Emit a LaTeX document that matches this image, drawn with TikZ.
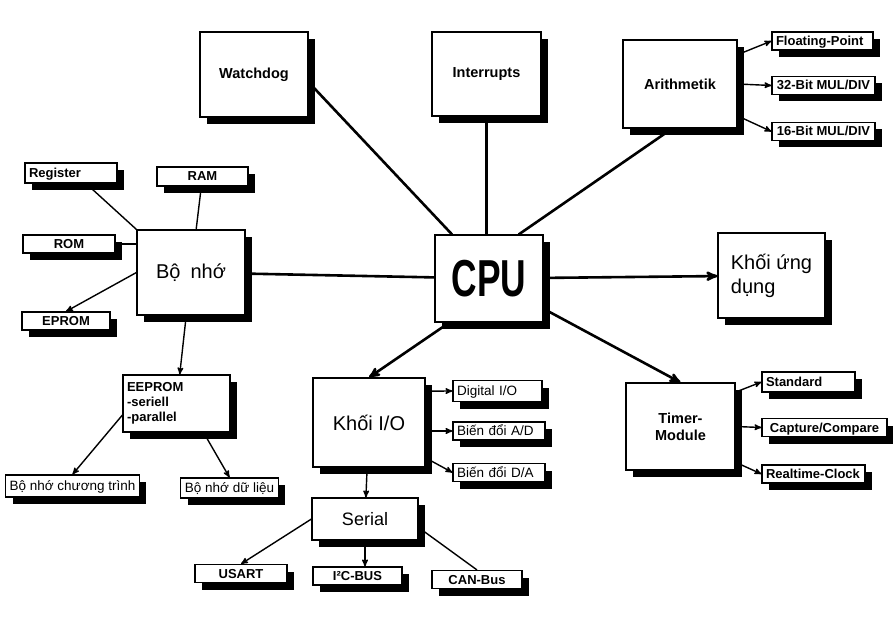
\documentclass[tikz,border=0pt]{standalone}
\usepackage{fontspec}
\setmainfont{Liberation Sans}
\newfontfamily\cpufont[FakeStretch=0.68]{Liberation Sans}
\usetikzlibrary{arrows,shadows,backgrounds}

\tikzset{
  blackshadow/.style={drop shadow={shadow xshift=7pt,shadow yshift=-7pt,fill=black,opacity=1}},
  block/.style={draw, fill=white, line width=1.1pt, blackshadow, minimum width=108pt, minimum height=86pt,
    inner sep=2pt, align=center, font=\fontsize{20}{24}\selectfont},
  bblock/.style={block, font=\fontsize{14.5}{17}\selectfont\bfseries},
  tagbox/.style={draw, fill=white, line width=1.1pt, blackshadow, minimum height=18pt, inner xsep=4pt, inner ysep=1pt,
    font=\fontsize{13}{15}\selectfont\bfseries},
  tag/.style={tagbox, text height=9.5pt, text depth=0.5pt},
  vtag/.style={tag, font=\fontsize{13.5}{16}\selectfont},
  link/.style={line width=1.4pt},
  main/.style={line width=2.6pt}
}

\begin{document}
\begin{tikzpicture}[x=1pt,y=-1pt,>=stealth']
  \useasboundingbox (0,0) rectangle (893,617);

  \node[bblock, minimum height=85pt] (wd) at (254,74.5) {Watchdog};
  \node[bblock, minimum width=109pt, minimum height=84pt] (irq) at (486.5,74) {Interrupts};
  \node[bblock, minimum width=114pt, minimum height=88pt] (ari) at (680,84) {Arithmetik};
  \node[tag, text width=93pt, align=left] (fp) at (822.5,41) {Floating-Point};
  \node[tag, minimum width=103pt] (b32) at (823.5,85.5) {32-Bit MUL/DIV};
  \node[tag, minimum width=103pt] (b16) at (823.5,131.5) {16-Bit MUL/DIV};

  \node[tag, text width=84pt, align=left, minimum height=20pt] (reg) at (71,173) {Register};
  \node[tag, minimum width=91pt, minimum height=19pt] (ram) at (202.5,176.5) {RAM};
  \node[tag, minimum width=92pt] (rom) at (69,244) {ROM};
  \node[tag, minimum width=88pt] (eprom) at (66,321) {EPROM};
  \node[block, minimum height=85pt] (mem) at (191,272.5) {Bộ\enspace nhớ};
  \node[tagbox, text width=99pt, align=left, minimum height=57pt] (eep) at (176.5,403.5) {EEPROM\\-seriell\\-parallel};
  \node[vtag, minimum width=129pt, minimum height=22pt] (prog) at (72.5,486) {Bộ nhớ chương trình};
  \node[vtag, minimum width=95pt, minimum height=20pt] (data) at (229.5,488) {Bộ nhớ dữ liệu};

  \node[block, minimum height=87pt, font=\cpufont\bfseries\fontsize{52}{52}\selectfont] (cpu) at (489,278.5) {CPU};
  \node[block, minimum width=107pt, minimum height=85pt, align=left] (app) at (771.5,275.5) {Khối ứng\\dụng};

  \node[block, minimum width=112pt, minimum height=89pt] (io) at (369,422.5) {Khối I/O};
  \node[vtag, text width=81pt, align=left, minimum height=21pt] (dio) at (497.5,391) {Digital I/O};
  \node[vtag, text width=84pt, align=left] (ad) at (499,431) {Biến đổi A/D};
  \node[vtag, text width=84pt, align=left] (da) at (499,472.5) {Biến đổi D/A};
  \node[block, minimum width=106pt, minimum height=42pt, font=\fontsize{18}{22}\selectfont] (ser) at (365,519) {Serial};
  \node[tag, minimum width=92pt] (usart) at (241,573.5) {USART};
  \node[tag, minimum width=89pt] (i2c) at (357.5,576) {I²C-BUS};
  \node[tag, minimum width=90pt] (can) at (477,579.5) {CAN-Bus};

  \node[bblock, minimum width=109pt, minimum height=87pt] (tim) at (680.5,426.5) {Timer-\\Module};
  \node[tag, text width=85pt, align=left, minimum height=20pt] (std) at (808.5,382) {Standard};
  \node[tag, minimum width=125pt] (cap) at (824.5,427.5) {Capture/Compare};
  \node[tag, text width=95pt, align=left] (rtc) at (813.5,474) {Realtime-Clock};

  \begin{scope}[on background layer]
    \path[main] (wd.-8) edge (cpu.130)
                (irq.south) edge (irq.south |- cpu.north)
                (ari.-100) edge (cpu.56)
                (mem) edge (cpu);
    \path[main,->] (cpu) edge (app)
                   (cpu.228) edge (io.north)
                   (cpu.-29) edge (tim.north);
    \path[link] (reg.-35) edge (mem.north west)
                (ram) edge (mem)
                (rom.east) edge (rom.east -| mem.west)
                (ser.-9) edge (can.north);
    \path[link,->] (mem.west) edge (eprom.north)
                   (mem) edge (eep)
                   (eep.192) edge (prog.north)
                   (eep.-47) edge (data.north)
                   (ari.27) edge (fp.west)
                   (ari.east) edge (b32.west)
                   (ari.-29) edge (b16.west)
                   (io.29) edge (dio.west)
                   (io.east |- ad.west) edge (ad.west)
                   (io.-32) edge (da.west)
                   (io) edge (ser)
                   (ser.west) edge (usart.north)
                   (ser.south) edge (ser.south |- i2c.north)
                   (tim.32) edge (std.west)
                   (tim.east) edge (cap.west)
                   (tim.-33) edge (rtc.west);
  \end{scope}
\end{tikzpicture}
\end{document}
